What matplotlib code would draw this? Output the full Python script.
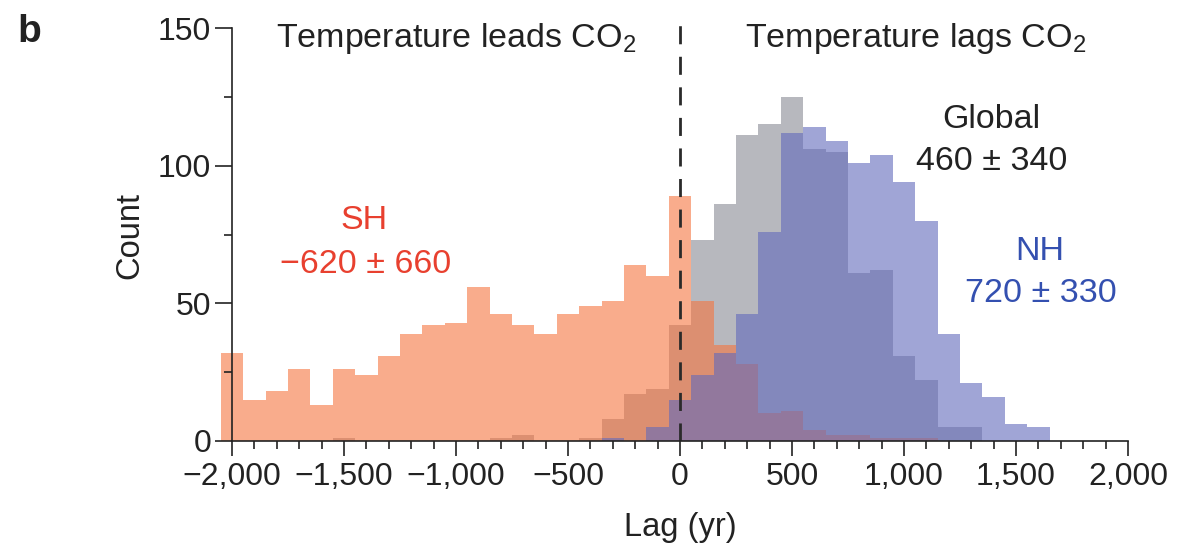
import numpy as np
import matplotlib
matplotlib.use('Agg')
import matplotlib.pyplot as plt
from matplotlib.ticker import MultipleLocator, FuncFormatter

plt.rcParams['font.family'] = ['Liberation Sans', 'DejaVu Sans']
plt.rcParams['mathtext.fontset'] = 'custom'
plt.rcParams['mathtext.rm'] = 'Liberation Sans'
plt.rcParams['mathtext.it'] = 'Liberation Sans:italic'

# histogram bins (centre of each 100-yr bin)
lag_bins = np.arange(-2000, 1700, 100)

# counts per bin
sh_counts = [32, 15, 18, 26, 13, 26, 24, 31, 39, 42,
             43, 56, 46, 42, 39, 46, 49, 51, 64, 60,
             89, 51, 35, 28, 10, 11, 4, 2, 2, 1,
             1, 1, 0, 0, 0, 0, 0]
global_counts = [0, 0, 0, 0, 0, 1, 0, 0, 0, 0,
                 0, 0, 1, 2, 0, 0, 1, 8, 17, 19,
                 42, 73, 86, 111, 115, 125, 106, 105, 61, 62,
                 31, 22, 5, 5, 0, 0, 0]
nh_counts = [0, 0, 0, 0, 0, 0, 0, 0, 0, 0,
             0, 0, 0, 0, 0, 0, 0, 1, 0, 5,
             15, 24, 32, 46, 76, 112, 114, 109, 101, 104,
             94, 80, 39, 21, 16, 6, 5]

bin_width = 100
zero_lag = 0

c_sh = '#F5753F'
c_gl = '#878A93'
c_nh = '#6169BC'
ink = '#222222'

fig = plt.figure(figsize=(11.79, 5.48), dpi=100)
ax = fig.add_axes([0.18538, 0.19526, 0.77327, 0.78869])

# gray underneath, SH in the middle, NH on top
ax.bar(lag_bins, global_counts, width=bin_width, color=c_gl, alpha=0.6, linewidth=0, zorder=1)
ax.bar(lag_bins, sh_counts, width=bin_width, color=c_sh, alpha=0.6, linewidth=0, zorder=1)
ax.bar(lag_bins, nh_counts, width=bin_width, color=c_nh, alpha=0.6, linewidth=0, zorder=1)

ax.set_xlim(-2060, 2010)
ax.set_ylim(0, 157)
ax.axvline(zero_lag, ymin=0, ymax=155 / 157, color='#2a2a2a', lw=2,
           linestyle=(0, (6.5, 4.5)), zorder=5)

# axes styling
for side in ['top', 'right']:
    ax.spines[side].set_visible(False)
ax.spines['left'].set_position(('data', -2000))
ax.spines['left'].set_bounds(0, 150)
ax.spines['bottom'].set_bounds(-2000, 2000)
for side in ['left', 'bottom']:
    ax.spines[side].set_linewidth(1.2)
    ax.spines[side].set_color(ink)
    ax.spines[side].set_zorder(6)

ax.xaxis.set_major_locator(MultipleLocator(500))
ax.xaxis.set_minor_locator(MultipleLocator(100))
ax.yaxis.set_major_locator(MultipleLocator(50))
ax.yaxis.set_minor_locator(MultipleLocator(25))


def fmt_lag(v, pos):
    if v == 0:
        return '0'
    sign = '\u2212' if v < 0 else ''
    return f'{sign}{abs(v):,.0f}'


ax.xaxis.set_major_formatter(FuncFormatter(fmt_lag))
ax.tick_params(axis='both', which='both', direction='out', color=ink, width=1.2,
               labelcolor=ink, labelsize=23)
ax.tick_params(axis='x', which='major', length=11, pad=4)
ax.tick_params(axis='x', which='minor', length=5.5)
ax.tick_params(axis='y', which='major', length=12, pad=3)
ax.tick_params(axis='y', which='minor', length=6)

ax.set_xlabel('Lag (yr)', fontsize=23.5, color=ink, va='center')
ax.xaxis.set_label_coords(0.506, -0.199)
ax.set_ylabel('Count', fontsize=23.5, color=ink, va='center')
ax.yaxis.set_label_coords(-0.097, 0.4766)

# annotations
fs = 24.5
ax.text(-1000, 143, 'Temperature leads CO$_\\mathregular{2}$', ha='center', va='baseline',
        fontsize=fs, color=ink)
ax.text(1054, 143, 'Temperature lags CO$_\\mathregular{2}$', ha='center', va='baseline',
        fontsize=fs, color=ink)

ax.text(1391, 113.7, 'Global', ha='center', va='baseline', fontsize=fs, color=ink)
ax.text(1391, 98.4, '460 \u00b1 340', ha='center', va='baseline', fontsize=fs, color=ink)

ax.text(-1410, 77, 'SH', ha='center', va='baseline', fontsize=fs, color='#E8402F')
ax.text(-1405, 61, '\u2212620 \u00b1 660', ha='center', va='baseline', fontsize=fs, color='#E8402F')

ax.text(1607, 65.6, 'NH', ha='center', va='baseline', fontsize=fs, color='#3450B0')
ax.text(1612, 50.6, '720 \u00b1 330', ha='center', va='baseline', fontsize=fs, color='#3450B0')

fig.text(17 / 1179, (548 - 42) / 548, 'b', fontsize=28, fontweight='bold', color=ink,
         ha='left', va='baseline')

fig.savefig('out.png', dpi=100)
plt.close(fig)
